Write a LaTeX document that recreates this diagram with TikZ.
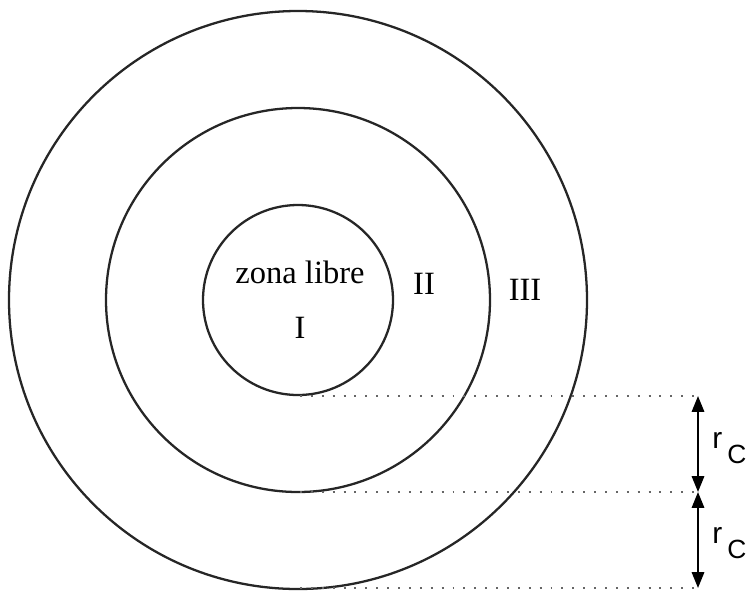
\documentclass[tikz,border=0pt]{standalone}
\usepackage{fontspec}
\setmainfont{Liberation Serif}
\newfontfamily\rcfont{Liberation Sans}
\usetikzlibrary{arrows.meta}
\tikzset{
  zona/.style={line width=1.3pt, black!85},
  guia/.style={line width=1.2pt, dash pattern=on 1.1pt off 5.1pt, black!60},
  cota/.style={line width=1.2pt, {Triangle[width=7pt,length=9pt]}-{Triangle[width=7pt,length=9pt]}},
  etiq/.style={font=\fontsize{18.5}{22}\selectfont},
}
\newcommand{\rclabel}{\rcfont\fontsize{17}{20}\selectfont r\,\raisebox{-0.5em}{\fontsize{15}{18}\selectfont C}}
\begin{document}
\begin{tikzpicture}[x=0.02cm,y=-0.02cm]
    \useasboundingbox (0,0) rectangle (747,593);
    % zonas
    \draw[zona] (298,300) circle[radius=95];
    \draw[zona] (298,300) circle[radius=192];
    \draw[zona] (298,300) circle[radius=289];

    \node[etiq] (libre) at (300,272) {zona libre};
    \node[etiq] (z1) at (300,328) {I};
    \node[etiq] (z2) at (424,284) {II};
    \node[etiq] (z3) at (525,290) {III};

    % guias y cotas
    \coordinate (g1) at (300,396);
    \coordinate (g2) at (300,492);
    \coordinate (g3) at (300,588);
    \coordinate (c1) at (698,396);
    \coordinate (c2) at (698,492);
    \coordinate (c3) at (698,588);
    \draw[guia] (g1) -- (c1);
    \draw[guia] (g2) -- (c2);
    \draw[guia] (g3) -- (c3);
    \draw[cota] (c1) -- (c2);
    \draw[cota] (c2) -- (c3);

    \node[anchor=west, inner sep=0pt] (rc1) at (712,448) {\rclabel};
    \node[anchor=west, inner sep=0pt] (rc2) at (712,543) {\rclabel};
\end{tikzpicture}
\end{document}
